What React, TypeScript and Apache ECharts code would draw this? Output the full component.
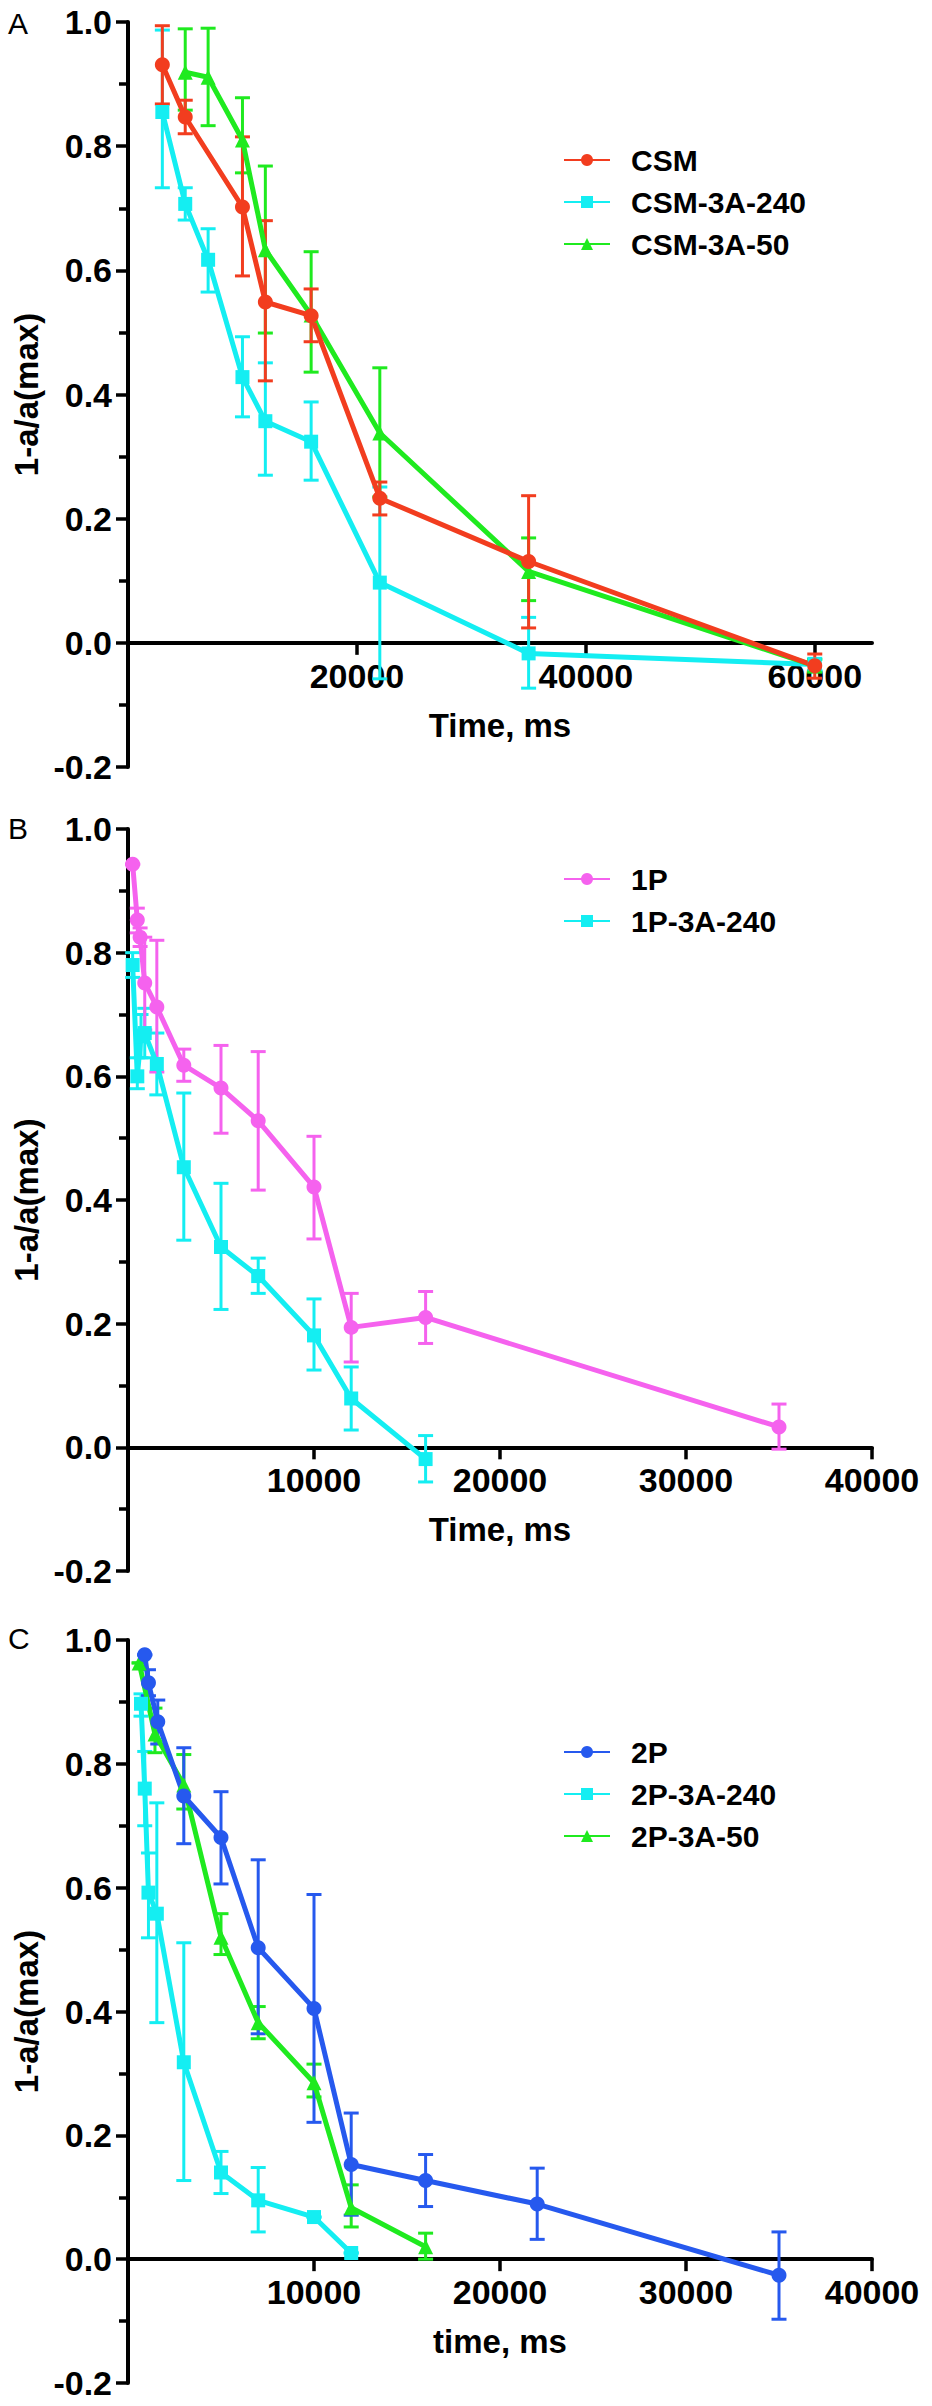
import React, { useEffect, useRef } from "react";
import * as echarts from "echarts";

// ---------- Panel A ----------
const csmTime = [3000, 5000, 10000, 12000, 16000, 22000, 35000, 60000];
const csmMean = [0.931, 0.847, 0.702, 0.549, 0.527, 0.233, 0.131, -0.037];
const csmHigh = [0.994, 0.874, 0.815, 0.68, 0.57, 0.259, 0.237, -0.018];
const csmLow = [0.868, 0.82, 0.591, 0.422, 0.485, 0.206, 0.024, -0.057];

const csm240Time = [3000, 5000, 7000, 10000, 12000, 16000, 22000, 35000, 60000];
const csm240Mean = [0.855, 0.707, 0.617, 0.428, 0.357, 0.324, 0.097, -0.017, -0.035];
const csm240High = [0.987, 0.733, 0.667, 0.493, 0.451, 0.388, 0.251, 0.041, -0.025];
const csm240Low = [0.733, 0.681, 0.565, 0.364, 0.27, 0.262, -0.058, -0.073, -0.045];

const csm50Time = [5000, 7000, 10000, 12000, 16000, 22000, 35000, 60000];
const csm50Mean = [0.919, 0.911, 0.81, 0.633, 0.528, 0.338, 0.115, -0.037];
const csm50High = [0.989, 0.99, 0.878, 0.768, 0.63, 0.443, 0.169, -0.027];
const csm50Low = [0.858, 0.833, 0.757, 0.499, 0.436, 0.235, 0.068, -0.047];

// ---------- Panel B ----------
const p1Time = [250, 500, 650, 900, 1550, 3000, 5000, 7000, 10000, 12000, 16000, 35000];
const p1Mean = [0.943, 0.853, 0.825, 0.751, 0.712, 0.618, 0.581, 0.528, 0.421, 0.194, 0.21, 0.033];
const p1High = [0.943, 0.872, 0.84, 0.825, 0.82, 0.644, 0.65, 0.64, 0.503, 0.249, 0.252, 0.07];
const p1Low = [0.943, 0.832, 0.81, 0.675, 0.607, 0.592, 0.508, 0.416, 0.337, 0.138, 0.168, -0.003];

const p1a240Time = [250, 500, 700, 900, 1550, 3000, 5000, 7000, 10000, 12000, 16000];
const p1a240Mean = [0.78, 0.6, 0.665, 0.67, 0.62, 0.453, 0.324, 0.277, 0.181, 0.079, -0.019];
const p1a240High = [0.8, 0.63, 0.7, 0.71, 0.67, 0.573, 0.427, 0.306, 0.24, 0.13, 0.019];
const p1a240Low = [0.76, 0.58, 0.63, 0.63, 0.57, 0.335, 0.223, 0.249, 0.125, 0.028, -0.056];

// ---------- Panel C ----------
const p2Time = [900, 1100, 1600, 3000, 5000, 7000, 10000, 12000, 16000, 22000, 35000];
const p2Mean = [0.976, 0.931, 0.868, 0.748, 0.681, 0.503, 0.405, 0.153, 0.127, 0.089, -0.026];
const p2High = [0.976, 0.952, 0.903, 0.826, 0.755, 0.645, 0.589, 0.236, 0.169, 0.147, 0.044];
const p2Low = [0.976, 0.91, 0.832, 0.671, 0.606, 0.364, 0.221, 0.071, 0.085, 0.032, -0.097];

const p2a240Time = [700, 900, 1100, 1550, 3000, 5000, 7000, 10000, 12000];
const p2a240Mean = [0.897, 0.76, 0.592, 0.558, 0.318, 0.14, 0.095, 0.068, 0.01];
const p2a240High = [0.913, 0.82, 0.656, 0.737, 0.511, 0.174, 0.148, 0.068, 0.01];
const p2a240Low = [0.877, 0.7, 0.519, 0.382, 0.127, 0.106, 0.044, 0.068, 0.01];

const p2a50Time = [600, 1450, 3000, 5000, 7000, 10000, 12000, 16000];
const p2a50Mean = [0.963, 0.848, 0.766, 0.52, 0.382, 0.285, 0.083, 0.02];
const p2a50High = [0.963, 0.89, 0.815, 0.558, 0.408, 0.315, 0.12, 0.042];
const p2a50Low = [0.963, 0.818, 0.727, 0.492, 0.356, 0.262, 0.052, 0.0];

// ---------- Axes ----------
const xTicksA = [20000, 40000, 60000];
const xTicksBC = [10000, 20000, 30000, 40000];
const panelLetters = ["A", "B", "C"];
const xNames = ["Time, ms", "Time, ms", "time, ms"];
const yName = "1-a/a(max)";
const yMin = -0.2;
const yMax = 1.0;

const RED = "#F23D1F";
const CYAN = "#14EEF2";
const GREEN = "#1FEA1F";
const PINK = "#F562EE";
const BLUE = "#2659EE";

const FONT = "'Liberation Sans', Arial, Helvetica, sans-serif";

type S = {
  name: string;
  time: number[];
  mean: number[];
  high: number[];
  low: number[];
  color: string;
  symbol: string;
  size: number;
  panel: number;
};

const seriesDefs: S[] = [
  { name: "CSM-3A-240", time: csm240Time, mean: csm240Mean, high: csm240High, low: csm240Low, color: CYAN, symbol: "rect", size: 14, panel: 0 },
  { name: "CSM-3A-50", time: csm50Time, mean: csm50Mean, high: csm50High, low: csm50Low, color: GREEN, symbol: "triangle", size: 15, panel: 0 },
  { name: "CSM", time: csmTime, mean: csmMean, high: csmHigh, low: csmLow, color: RED, symbol: "circle", size: 15, panel: 0 },
  { name: "1P-3A-240", time: p1a240Time, mean: p1a240Mean, high: p1a240High, low: p1a240Low, color: CYAN, symbol: "rect", size: 14, panel: 1 },
  { name: "1P", time: p1Time, mean: p1Mean, high: p1High, low: p1Low, color: PINK, symbol: "circle", size: 15, panel: 1 },
  { name: "2P-3A-240", time: p2a240Time, mean: p2a240Mean, high: p2a240High, low: p2a240Low, color: CYAN, symbol: "rect", size: 14, panel: 2 },
  { name: "2P-3A-50", time: p2a50Time, mean: p2a50Mean, high: p2a50High, low: p2a50Low, color: GREEN, symbol: "triangle", size: 15, panel: 2 },
  { name: "2P", time: p2Time, mean: p2Mean, high: p2High, low: p2Low, color: BLUE, symbol: "circle", size: 15, panel: 2 },
];

const legendNames = [
  ["CSM", "CSM-3A-240", "CSM-3A-50"],
  ["1P", "1P-3A-240"],
  ["2P", "2P-3A-240", "2P-3A-50"],
];

const gridTops = [22, 829, 1640];
const gridHeights = [745, 742, 743];
const xMax = [65000, 40000, 40000];
const legendTops = [140, 859, 1732];
const letterTops = [8, 813, 1623];

function errorBarSeries(s: S) {
  const data = s.time.map((t, i) => [t, s.low[i], s.high[i]]);
  return {
    type: "custom",
    name: s.name + "-err",
    xAxisIndex: s.panel,
    yAxisIndex: s.panel,
    data,
    encode: { x: 0, y: [1, 2] },
    silent: true,
    z: 2,
    renderItem: (_params: any, api: any) => {
      const x = api.value(0);
      const lo = api.value(1);
      const hi = api.value(2);
      const pHi = api.coord([x, hi]);
      const pLo = api.coord([x, lo]);
      const w = 7.5;
      const st = { stroke: s.color, lineWidth: 3 };
      return {
        type: "group",
        children: [
          { type: "line", shape: { x1: pHi[0], y1: pHi[1], x2: pLo[0], y2: pLo[1] }, style: st },
          { type: "line", shape: { x1: pHi[0] - w, y1: pHi[1], x2: pHi[0] + w, y2: pHi[1] }, style: st },
          { type: "line", shape: { x1: pLo[0] - w, y1: pLo[1], x2: pLo[0] + w, y2: pLo[1] }, style: st },
        ],
      };
    },
  };
}

function lineSeries(s: S) {
  return {
    type: "line",
    name: s.name,
    xAxisIndex: s.panel,
    yAxisIndex: s.panel,
    data: s.time.map((t, i) => [t, s.mean[i]]),
    symbol: s.symbol,
    symbolSize: s.size,
    showAllSymbol: true,
    lineStyle: { color: s.color, width: 5 },
    itemStyle: { color: s.color },
    z: 3,
  };
}

function buildOption() {
  const grids = [0, 1, 2].map((i) => ({
    left: 128,
    top: gridTops[i],
    width: 744,
    height: gridHeights[i],
    containLabel: false,
    outerBoundsMode: "none",
  }));
  const xAxes = [0, 1, 2].map((i) => {
    const ticks = i === 0 ? xTicksA : xTicksBC;
    // place the x axis on the zero line of the y scale
    const zeroOffset = -(gridHeights[i] * (0 - yMin)) / (yMax - yMin);
    return {
      type: "value",
      gridIndex: i,
      position: "bottom",
      offset: zeroOffset,
      min: 0,
      max: xMax[i],
      name: xNames[i],
      nameLocation: "middle",
      nameGap: 66,
      nameTextStyle: { fontSize: 33, fontWeight: "bold", color: "#000", fontFamily: FONT },
      axisLine: { show: true, onZero: false, lineStyle: { color: "#000", width: 4 } },
      axisTick: { show: true, customValues: ticks, length: 12, lineStyle: { color: "#000", width: 3.5 } },
      axisLabel: {
        customValues: ticks,
        fontSize: 34,
        fontWeight: "bold",
        color: "#000",
        margin: 16,
        fontFamily: FONT,
        formatter: (v: number) => String(v),
      },
      splitLine: { show: false },
    };
  });
  const yAxes = [0, 1, 2].map((i) => ({
    type: "value",
    gridIndex: i,
    min: yMin,
    max: yMax,
    interval: 0.2,
    name: yName,
    nameLocation: "middle",
    nameGap: 84,
    nameRotate: 90,
    nameTextStyle: { fontSize: 33, fontWeight: "bold", color: "#000", fontFamily: FONT },
    axisLine: { show: true, onZero: false, lineStyle: { color: "#000", width: 4 } },
    axisTick: { show: true, length: 12, lineStyle: { color: "#000", width: 3.5 } },
    minorTick: { show: true, splitNumber: 2, length: 9, lineStyle: { color: "#000", width: 3.5 } },
    minorSplitLine: { show: false },
    axisLabel: {
      fontSize: 34,
      fontWeight: "bold",
      color: "#000",
      margin: 16,
      fontFamily: FONT,
      formatter: (v: number) => v.toFixed(1),
    },
    splitLine: { show: false },
  }));
  const legends = [0, 1, 2].map((i) => ({
    data: legendNames[i],
    orient: "vertical",
    left: 558,
    top: legendTops[i],
    itemWidth: 46,
    itemHeight: 15,
    itemGap: 12,
    selectedMode: false,
    textStyle: { fontSize: 30, fontWeight: "bold", color: "#000", fontFamily: FONT, padding: [0, 0, 0, 16], lineHeight: 30 },
  }));
  const series: any[] = [];
  seriesDefs.forEach((s) => series.push(errorBarSeries(s)));
  seriesDefs.forEach((s) => series.push(lineSeries(s)));
  const graphic = [0, 1, 2].map((i) => ({
    type: "text",
    left: 8,
    top: letterTops[i],
    style: { text: panelLetters[i], fontSize: 30, fontFamily: FONT, fill: "#000" },
  }));
  return {
    animation: false,
    backgroundColor: "#fff",
    grid: grids,
    xAxis: xAxes,
    yAxis: yAxes,
    legend: legends,
    series,
    graphic,
  };
}

export default function App() {
  const ref = useRef<HTMLDivElement>(null);
  useEffect(() => {
    if (!ref.current) return;
    const chart = echarts.init(ref.current, undefined, { renderer: "svg" });
    chart.setOption(buildOption() as any);
    return () => chart.dispose();
  }, []);
  return (
    <div
      ref={ref}
      style={{ position: "absolute", left: 0, top: 0, width: 932, height: 2406, background: "#fff" }}
    />
  );
}
